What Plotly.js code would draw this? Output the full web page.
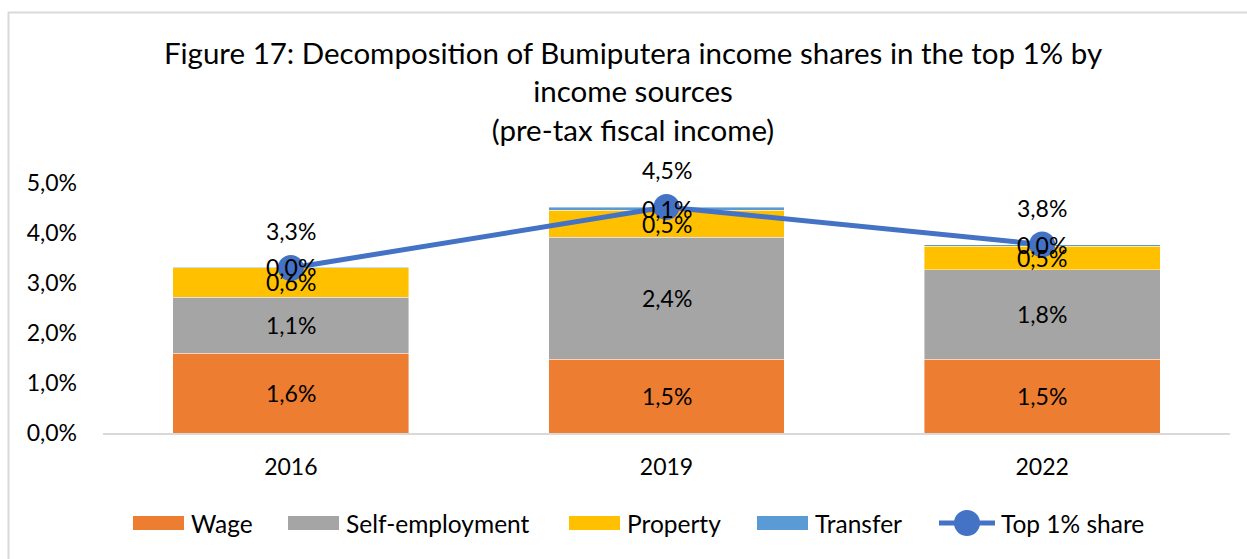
<!DOCTYPE html>
<html>
<head>
<meta charset="utf-8">
<script src="https://cdn.plot.ly/plotly-3.0.1.min.js"></script>
<style>html,body{margin:0;padding:0;background:#fff;}#chart{width:1247px;height:559px;}</style>
</head>
<body>
<div id="chart"></div>
<script>
// ---- data ----
const years = ["2016", "2019", "2022"];
const wage = [1.60, 1.48, 1.48];
const selfEmployment = [1.12, 2.44, 1.79];
const property = [0.59, 0.54, 0.47];
const transfer = [0.01, 0.06, 0.03];
const top1Share = [3.30, 4.52, 3.77];
const seriesNames = ["Wage", "Self-employment", "Property", "Transfer", "Top 1% share"];
const yTicks = [0, 1, 2, 3, 4, 5];

// ---- style ----
const FONT = "Lato, 'Open Sans', sans-serif";
const colors = ["#ED7D31", "#A5A5A5", "#FFC000", "#5B9BD5", "#4472C4"];
const W = 1247, H = 559;
const M = {l: 103, r: 17, t: 183, b: 126};
const fmt = v => v.toFixed(1).replace('.', ',') + '%';
const FS = 23;

const stacks = [wage, selfEmployment, property, transfer];
const traces = stacks.map((arr, i) => ({
  type: 'bar', name: seriesNames[i], x: years, y: arr,
  marker: {color: colors[i], line: {color: 'rgba(255,255,255,0.6)', width: 0.7}},
  hoverinfo: 'skip', showlegend: false
}));
traces.push({
  type: 'scatter', mode: 'lines+markers', name: seriesNames[4], x: years, y: top1Share,
  line: {color: colors[4], width: 5},
  marker: {color: colors[4], size: 26},
  hoverinfo: 'skip', showlegend: false
});

// labels centred in each stacked segment, from the data (x as category index)
const annotations = [];
years.forEach((yr, j) => {
  let base = 0;
  stacks.forEach(arr => {
    const v = arr[j];
    annotations.push({x: j, y: base + v / 2, xref: 'x', yref: 'y', text: fmt(v),
      showarrow: false, font: {family: FONT, size: FS, color: '#000'}});
    base += v;
  });
  annotations.push({x: j, y: top1Share[j], xref: 'x', yref: 'y', text: fmt(top1Share[j]),
    showarrow: false, yshift: 37, font: {family: FONT, size: FS, color: '#000'}});
});

const pw = W - M.l - M.r, ph = H - M.t - M.b;
const px = x => (x - M.l) / pw;
const py = y => (H - M.b - y) / ph;

// ---- custom legend (Excel-style wide swatches) ----
const shapes = [{
  type: 'rect', xref: 'paper', yref: 'paper',
  x0: px(8.5), x1: px(W + 5), y0: py(H + 5), y1: py(12.5),
  line: {color: '#d9d9d9', width: 2}, fillcolor: 'rgba(0,0,0,0)', layer: 'below'
}];
const legY = 523;
const swatchX = [133, 288, 569, 757];
const LFS = 24.5;
swatchX.forEach((sx, i) => {
  shapes.push({type: 'rect', xref: 'paper', yref: 'paper',
    x0: px(sx), x1: px(sx + 51), y0: py(legY + 7), y1: py(legY - 7),
    line: {width: 0}, fillcolor: colors[i]});
  annotations.push({xref: 'paper', yref: 'paper', x: px(sx + 56), y: py(legY),
    xanchor: 'left', yanchor: 'middle', showarrow: false, text: seriesNames[i],
    font: {family: FONT, size: LFS, color: '#000'}});
});
shapes.push({type: 'line', xref: 'paper', yref: 'paper',
  x0: px(939), x1: px(995), y0: py(legY), y1: py(legY),
  line: {color: colors[4], width: 5}});
shapes.push({type: 'circle', xref: 'paper', yref: 'paper',
  x0: px(954), x1: px(980), y0: py(legY + 13), y1: py(legY - 13),
  line: {width: 0}, fillcolor: colors[4]});
annotations.push({xref: 'paper', yref: 'paper', x: px(999), y: py(legY),
  xanchor: 'left', yanchor: 'middle', showarrow: false, text: seriesNames[4],
  font: {family: FONT, size: LFS, color: '#000'}});

const layout = {
  width: W, height: H,
  margin: M,
  paper_bgcolor: '#fff', plot_bgcolor: '#fff',
  font: {family: FONT, color: '#000'},
  barmode: 'stack',
  bargap: 0.372,
  title: {
    text: 'Figure 17: Decomposition of Bumiputera income shares in the top 1% by<br>income sources<br>(pre-tax fiscal income)',
    font: {family: FONT, size: 29.5, color: '#000'},
    xref: 'container', x: 633 / W, xanchor: 'center',
    yref: 'container', y: 1 - 64 / H, yanchor: 'top'
  },
  xaxis: {
    type: 'category', showline: true, linecolor: '#d9d9d9', linewidth: 2,
    ticks: '', showgrid: false, zeroline: false,
    tickfont: {family: FONT, size: FS, color: '#000'},
    ticklabelstandoff: 12
  },
  yaxis: {
    range: [0, 5], tickvals: yTicks, ticktext: yTicks.map(fmt),
    showgrid: false, zeroline: false, showline: false, ticks: '',
    tickfont: {family: FONT, size: FS, color: '#000'},
    ticklabelstandoff: 25
  },
  showlegend: false,
  annotations: annotations,
  shapes: shapes
};

Plotly.newPlot('chart', traces, layout, {displayModeBar: false, staticPlot: true});
</script>
</body>
</html>
